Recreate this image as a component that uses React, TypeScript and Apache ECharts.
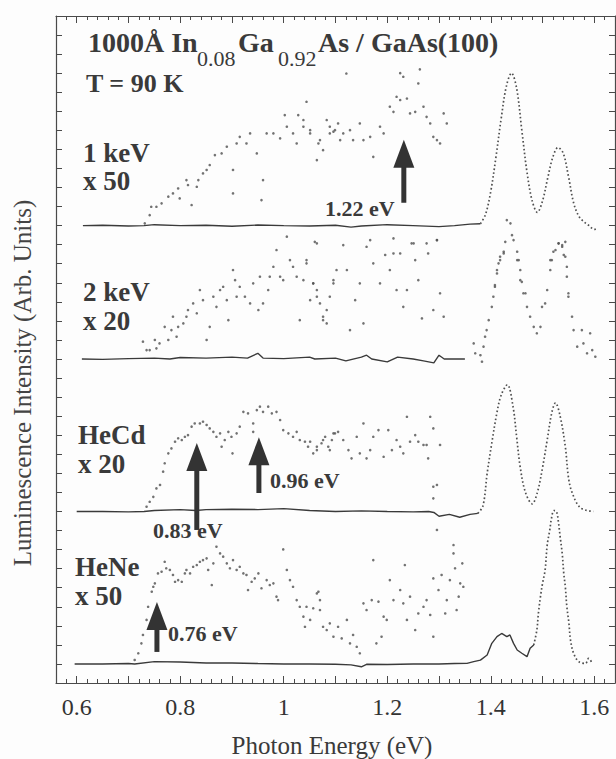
import React, { useEffect, useRef } from 'react';
import * as echarts from 'echarts';

const FONT = '"Liberation Serif", "Times New Roman", serif';
const INK = '#3a3a3a';
const DOT = '#4f4f4f';

// ---- axis ticks ----
const X_LABELS = [0.6, 0.8, 1, 1.2, 1.4, 1.6];
const X_MAJOR = [0.6, 0.7, 0.8, 0.9, 1.0, 1.1, 1.2, 1.3, 1.4, 1.5, 1.6];
const X_MINOR = Array.from({ length: 55 }, (_, i) => Math.round((0.56 + i * 0.02) * 100) / 100);

// ---- 1 keV x50 (baseline 24) ----
const base1 = [[0.612,24.0],[0.65,24.02],[0.7,23.98],[0.73,24.0],[0.75,24.05],[0.8,24.0],[0.85,24.02],[0.9,23.97],[0.95,24.03],[1.0,24.0],[1.05,23.98],[1.1,24.02],[1.13,23.92],[1.15,23.98],[1.2,24.05],[1.25,24.0],[1.3,23.95],[1.33,24.0],[1.36,24.08],[1.38,24.1]];
const peak1 = [[1.38,24.1],[1.39,24.6],[1.40,25.8],[1.41,27.6],[1.42,29.6],[1.43,31.3],[1.44,32.0],[1.45,31.2],[1.46,29.0],[1.47,26.8],[1.48,25.3],[1.49,24.7],[1.50,25.3],[1.51,26.5],[1.52,27.6],[1.53,28.1],[1.54,27.8],[1.55,26.6],[1.56,25.2],[1.57,24.5],[1.58,24.2],[1.59,24.0],[1.60,23.8],[1.605,23.85]];
const mag1 = [[0.7315,24.12],[0.741,24.55],[0.744,24.99],[0.754,24.99],[0.764,25.17],[0.777,25.52],[0.786,25.69],[0.796,25.95],[0.799,25.43],[0.812,26.39],[0.815,26.13],[0.832,26.04],[0.835,26.39],[0.822,25.08],[0.844,26.74],[0.851,26.92],[0.857,27.18],[0.867,27.7],[0.88,27.79],[0.89,28.14],[0.902,26.92],[0.909,28.31],[0.915,28.66],[0.928,28.31],[0.935,28.84],[0.948,27.79],[0.96,26.39],[0.957,25.34],[0.967,28.84],[0.98,28.84],[0.993,28.58],[1.002,29.8],[1.006,29.19],[1.018,28.84],[1.025,28.31],[1.028,29.8],[1.038,29.19],[1.044,30.5],[1.051,28.84],[1.064,27.44],[1.067,28.31],[1.083,29.54],[1.089,28.84],[1.099,29.01],[1.105,29.36],[0.902,25.69],[1.038,29.54],[1.051,29.01],[1.07,28.49],[1.076,27.96],[1.089,29.19],[1.096,28.93],[1.109,28.49],[1.115,28.84],[1.128,29.01],[1.134,28.49],[1.147,29.36],[1.154,28.49],[1.167,28.66],[1.173,27.61],[1.186,29.19],[1.193,28.84],[1.205,30.24],[1.212,29.97],[1.218,30.76],[1.225,30.59],[1.231,31.81],[1.238,30.67],[1.244,29.89],[1.254,29.97],[1.26,31.46],[1.27,30.24],[1.276,29.71],[1.283,29.36],[1.289,28.66],[1.296,28.49],[1.302,28.31],[1.309,29.89],[1.315,29.36],[1.121,31.98],[1.225,32.0],[1.263,32.2]];

// ---- 2 keV x20 (baseline 17) ----
const base2 = [[0.61,17.0],[0.65,16.98],[0.7,17.02],[0.75,17.05],[0.78,17.0],[0.8,17.08],[0.85,17.05],[0.9,17.1],[0.93,17.05],[0.95,17.3],[0.96,17.05],[1.0,17.02],[1.05,17.1],[1.06,17.0],[1.1,17.05],[1.12,16.9],[1.15,17.1],[1.16,17.2],[1.17,17.0],[1.2,16.85],[1.22,17.1],[1.25,17.0],[1.27,16.9],[1.29,16.8],[1.3,17.2],[1.31,17.0],[1.35,17.0]];
const peak2 = [[1.367,17.82],[1.37,17.3],[1.38,17.2],[1.383,16.86],[1.386,17.65],[1.389,18.17],[1.392,18.52],[1.396,19.04],[1.402,19.74],[1.405,20.27],[1.408,20.79],[1.412,21.49],[1.415,22.02],[1.418,22.37],[1.425,22.54],[1.408,20.88],[1.412,21.67],[1.418,22.19],[1.425,22.63],[1.428,23.15],[1.431,24.29],[1.438,24.12],[1.441,23.5],[1.444,23.24],[1.451,22.63],[1.454,22.19],[1.457,21.67],[1.46,21.05],[1.467,20.45],[1.451,22.19],[1.457,21.14],[1.463,20.45],[1.47,19.74],[1.476,19.22],[1.483,18.69],[1.489,18.35],[1.496,18.69],[1.499,19.74],[1.505,19.92],[1.509,20.62],[1.515,21.67],[1.518,22.19],[1.525,22.72],[1.531,23.07],[1.538,22.89],[1.544,22.37],[1.547,21.32],[1.55,20.27],[1.557,19.22],[1.56,18.52],[1.567,17.65],[1.576,18.52],[1.579,17.82],[1.586,17.3],[1.592,18.35],[1.596,17.47],[1.602,17.12],[1.515,22.19],[1.521,22.63],[1.531,23.07],[1.538,22.98],[1.544,23.15],[1.541,22.46],[1.547,21.84],[1.55,20.45]];
const mag2 = [[0.728,17.91],[0.735,17.47],[0.741,17.47],[0.751,18.0],[0.754,17.56],[0.76,17.82],[0.77,18.69],[0.777,18.0],[0.783,18.52],[0.786,19.22],[0.793,18.17],[0.796,18.69],[0.806,18.87],[0.812,19.22],[0.815,19.57],[0.825,19.92],[0.832,19.4],[0.838,20.62],[0.844,20.09],[0.851,18.0],[0.857,18.69],[0.864,20.27],[0.87,19.74],[0.877,20.62],[0.883,20.79],[0.89,20.09],[0.893,19.04],[0.902,21.67],[0.906,21.14],[0.909,20.27],[0.915,20.79],[0.925,20.27],[0.935,19.92],[0.941,20.97],[0.951,19.57],[0.954,21.32],[0.96,19.92],[0.97,20.62],[0.973,21.32],[0.98,21.84],[0.986,22.72],[0.993,21.32],[0.999,21.14],[1.006,23.42],[1.012,22.19],[1.018,21.84],[1.025,21.32],[1.031,19.04],[1.038,21.14],[1.044,22.19],[1.051,20.09],[1.057,20.97],[1.06,23.15],[1.064,20.62],[1.07,19.92],[1.076,19.22],[1.083,18.87],[1.089,20.27],[1.096,21.14],[1.044,22.02],[1.057,20.97],[1.064,20.27],[1.076,19.04],[1.083,19.57],[1.096,20.97],[1.102,21.67],[1.115,22.98],[1.122,21.67],[1.128,18.52],[1.138,20.09],[1.147,20.97],[1.154,18.87],[1.167,23.24],[1.173,22.02],[1.186,20.97],[1.196,22.46],[1.205,21.67],[1.212,23.33],[1.218,20.62],[1.225,22.54],[1.231,19.74],[1.238,20.62],[1.247,23.07],[1.254,22.19],[1.26,21.14],[1.267,19.13],[1.276,23.07],[1.279,22.54],[1.289,19.57],[1.296,23.24],[1.302,20.45],[1.309,19.22],[1.064,23.07],[1.16,22.89],[1.212,22.54],[1.251,23.07],[1.296,23.24]];

// ---- HeCd x20 (baseline 9) ----
const base3 = [[0.6,9.0],[0.65,9.0],[0.7,8.98],[0.73,9.0],[0.75,9.05],[0.8,9.1],[0.83,9.05],[0.85,9.1],[0.9,9.12],[0.95,9.1],[1.0,9.15],[1.05,9.05],[1.1,9.0],[1.15,9.03],[1.2,9.0],[1.25,8.98],[1.28,9.0],[1.29,8.95],[1.3,8.75],[1.32,8.85],[1.34,8.7],[1.36,8.85],[1.375,8.9]];
const peak3 = [[1.375,8.9],[1.385,9.3],[1.393,11.0],[1.402,12.6],[1.412,14.2],[1.42,15.1],[1.432,15.65],[1.443,14.5],[1.45,12.9],[1.457,11.3],[1.467,10.0],[1.48,9.4],[1.49,10.0],[1.5,11.3],[1.509,12.75],[1.518,14.2],[1.525,14.7],[1.534,14.0],[1.544,12.4],[1.55,10.8],[1.557,10.0],[1.573,9.2],[1.598,9.0]];
const mag3 = [[0.735,9.25],[0.741,9.51],[0.748,9.77],[0.754,10.21],[0.761,10.39],[0.767,11.09],[0.77,11.53],[0.777,12.05],[0.783,12.31],[0.79,12.66],[0.796,12.84],[0.803,12.75],[0.809,12.92],[0.815,13.01],[0.822,13.45],[0.828,13.62],[0.838,13.62],[0.844,13.71],[0.851,13.54],[0.857,13.36],[0.864,13.18],[0.87,12.92],[0.877,13.1],[0.88,12.4],[0.886,12.75],[0.893,13.18],[0.899,12.92],[0.901,12.05],[0.909,13.1],[0.915,13.45],[0.922,14.23],[0.931,14.15],[0.941,13.62],[0.941,13.18],[0.948,14.32],[0.954,14.5],[0.96,14.23],[0.97,14.5],[0.977,14.15],[0.986,14.23],[0.993,13.8],[0.999,13.27],[1.009,13.1],[1.018,12.92],[1.025,13.18],[1.031,12.75],[1.041,12.66],[1.047,12.4],[1.057,12.05],[1.064,12.22],[1.073,12.58],[1.08,12.92],[1.086,12.4],[1.093,12.75],[1.099,13.1],[1.051,12.66],[1.064,12.4],[1.076,12.75],[1.089,12.22],[1.096,13.1],[1.105,13.18],[1.115,12.75],[1.125,12.22],[1.131,11.79],[1.141,12.92],[1.147,12.05],[1.154,13.62],[1.16,11.79],[1.167,12.22],[1.173,12.92],[1.183,13.27],[1.193,11.87],[1.202,13.27],[1.209,12.22],[1.218,12.75],[1.225,12.4],[1.231,12.05],[1.238,13.97],[1.244,12.66],[1.254,13.01],[1.26,12.66],[1.27,12.49],[1.276,12.49],[1.283,13.97],[1.289,13.36],[1.279,11.79],[1.302,12.49],[1.289,10.3],[1.296,10.39],[1.289,9.69]];

// ---- HeNe x50 (baseline 1) ----
const base4 = [[0.596,1.0],[0.65,1.0],[0.7,1.02],[0.712,1.0],[0.75,1.12],[0.8,1.1],[0.85,1.05],[0.9,1.05],[0.95,1.02],[1.0,1.0],[1.05,1.0],[1.1,0.98],[1.13,0.95],[1.15,0.85],[1.16,0.98],[1.2,0.97],[1.25,1.0],[1.3,1.0],[1.33,1.02],[1.354,1.03],[1.367,1.12],[1.38,1.2],[1.393,1.47],[1.402,2.08],[1.412,2.43],[1.421,2.6],[1.431,2.43],[1.437,2.52],[1.444,2.08],[1.451,1.73],[1.46,1.56],[1.47,1.38],[1.476,1.82],[1.483,1.99]];
const peak4 = [[1.483,1.99],[1.489,2.78],[1.492,3.65],[1.496,4.53],[1.5,5.23],[1.505,5.93],[1.509,7.24],[1.514,8.03],[1.517,8.6],[1.522,9.05],[1.527,9.0],[1.531,8.38],[1.534,7.68],[1.538,6.8],[1.541,5.75],[1.544,5.05],[1.547,4.0],[1.551,3.13],[1.554,2.26],[1.56,1.56],[1.57,1.12],[1.583,1.03],[1.589,1.29],[1.596,1.03]];
const mag4 = [[0.712,1.21],[0.719,1.56],[0.725,2.08],[0.728,2.52],[0.735,3.31],[0.738,4.0],[0.745,4.79],[0.748,5.05],[0.751,5.23],[0.757,5.75],[0.764,5.84],[0.77,6.36],[0.773,6.02],[0.78,5.93],[0.786,5.67],[0.79,5.31],[0.796,5.4],[0.803,5.31],[0.809,5.75],[0.812,5.93],[0.819,5.75],[0.825,6.1],[0.832,6.19],[0.838,6.36],[0.844,6.45],[0.851,6.54],[0.854,5.93],[0.861,5.14],[0.864,6.28],[0.87,7.15],[0.877,6.8],[0.883,6.63],[0.89,6.28],[0.896,6.02],[0.902,6.45],[0.909,5.93],[0.915,6.1],[0.922,5.75],[0.928,5.67],[0.931,4.88],[0.938,5.31],[0.944,5.49],[0.951,5.75],[0.957,4.97],[0.967,5.4],[0.973,5.14],[0.98,5.23],[0.986,4.53],[0.989,4.35],[0.999,7.01],[1.006,5.93],[1.012,5.4],[1.018,5.05],[1.025,4.35],[1.031,4.0],[1.038,3.48],[1.041,2.95],[1.051,3.31],[1.057,3.92],[1.064,4.7],[1.07,3.83],[1.076,2.95],[1.083,2.78],[1.096,2.43],[1.044,4.0],[1.067,4.79],[1.07,4.35],[1.089,3.13],[1.105,2.95],[1.112,2.34],[1.122,3.31],[1.128,2.08],[1.134,2.52],[1.141,1.9],[1.147,1.56],[1.154,4.18],[1.16,3.83],[1.17,4.35],[1.173,6.45],[1.179,2.08],[1.183,4.27],[1.189,2.43],[1.193,3.48],[1.199,3.31],[1.205,5.4],[1.212,4.35],[1.225,4.88],[1.231,4.18],[1.234,6.19],[1.238,3.31],[1.244,4.53],[1.254,2.78],[1.26,3.65],[1.27,4.0],[1.276,4.35],[1.283,3.57],[1.289,2.43],[1.289,5.49],[1.296,8.03],[1.299,4.88],[1.305,5.67],[1.312,3.65],[1.315,4.35],[1.321,5.4],[1.328,6.8],[1.328,7.24],[1.331,6.02],[1.334,3.83],[1.338,4.53],[1.341,5.23],[1.345,6.28],[1.347,5.05]];

// ---- arrows: x position, shaft foot, tip ----
const ARROW_X = [1.232, 0.952, 0.832, 0.755];
const ARROW_FOOT = [25.2, 9.97, 8.03, 1.63];
const ARROW_TIP = [28.5, 12.9, 12.6, 4.25];

function baseLine(data: number[][]) {
  return { type: 'line', data, symbol: 'none', silent: true, lineStyle: { color: INK, width: 1.4 }, z: 3 };
}
function dottedLine(data: number[][]) {
  return { type: 'line', data, symbol: 'none', smooth: 0.35, silent: true, lineStyle: { color: DOT, width: 1.7, type: [1.6, 2.4] }, z: 3 };
}
function dots(data: number[][]) {
  return { type: 'scatter', data, symbolSize: 2.6, silent: true, itemStyle: { color: DOT }, z: 3 };
}

function txt(text: string, x: number, y: number, size: number, bold = true, extra: any = {}) {
  return {
    type: 'text', x, y, z: 10, silent: true,
    style: { text, fill: INK, fontSize: size, fontFamily: FONT, fontWeight: bold ? 'bold' : 'normal', align: 'left', verticalAlign: 'middle', ...extra },
  };
}

export default function App() {
  const ref = useRef<HTMLDivElement>(null);
  useEffect(() => {
    document.body.style.margin = '0';
    const chart = echarts.init(ref.current!, undefined, { renderer: 'svg' });
    const axisColor = '#4a4a4a';
    const xCommon = { type: 'value', min: 0.56, max: 1.64, splitLine: { show: false } };
    const option: any = {
      animation: false,
      backgroundColor: '#fdfdfd',
      grid: { left: 56, right: 1, top: 16, bottom: 76 },
      xAxis: [
        { ...xCommon, position: 'bottom', axisLine: { show: true, lineStyle: { color: axisColor, width: 1.2 } },
          axisTick: { show: true, inside: true, length: 7, customValues: X_MAJOR, lineStyle: { color: axisColor } },
          axisLabel: { customValues: X_LABELS, formatter: (v: number) => String(v), fontSize: 24, fontFamily: FONT, color: '#333', margin: 12 } },
        { ...xCommon, position: 'bottom', axisLine: { show: false },
          axisTick: { show: true, inside: true, length: 4, customValues: X_MINOR, lineStyle: { color: axisColor } },
          axisLabel: { show: false } },
        { ...xCommon, position: 'top', axisLine: { show: true, lineStyle: { color: axisColor, width: 1.2 } },
          axisTick: { show: true, inside: true, length: 7, customValues: X_MAJOR, lineStyle: { color: axisColor } },
          axisLabel: { show: false } },
        { ...xCommon, position: 'top', axisLine: { show: false },
          axisTick: { show: true, inside: true, length: 4, customValues: X_MINOR, lineStyle: { color: axisColor } },
          axisLabel: { show: false } },
      ],
      yAxis: [
        { type: 'value', min: 0, max: 35, interval: 1, position: 'left', splitLine: { show: false },
          axisLine: { show: true, lineStyle: { color: axisColor, width: 1.2 } },
          axisTick: { show: true, inside: true, length: 6, lineStyle: { color: axisColor } }, axisLabel: { show: false } },
        { type: 'value', min: 0, max: 35, interval: 1, position: 'right', splitLine: { show: false },
          axisLine: { show: true, lineStyle: { color: axisColor, width: 1.2 } },
          axisTick: { show: true, inside: true, length: 6, lineStyle: { color: axisColor } }, axisLabel: { show: false } },
      ],
      series: [
        baseLine(base1), dottedLine(peak1), dots(mag1),
        baseLine(base2), dots(peak2), dots(mag2),
        baseLine(base3), dottedLine(peak3), dots(mag3),
        baseLine(base4), dottedLine(peak4), dots(mag4),
        {
          type: 'custom', clip: false, z: 6, silent: true,
          data: ARROW_X.map((x, i) => [x, ARROW_FOOT[i], ARROW_TIP[i]]),
          encode: { x: 0, y: [1, 2] },
          renderItem: (_p: any, api: any) => {
            const foot = api.coord([api.value(0), api.value(1)]);
            const tip = api.coord([api.value(0), api.value(2)]);
            const headW = 21, headH = 28, shaft = 5;
            return {
              type: 'group',
              children: [
                { type: 'rect', shape: { x: foot[0] - shaft / 2, y: tip[1] + headH - 1, width: shaft, height: foot[1] - tip[1] - headH + 1 }, style: { fill: '#333' } },
                { type: 'polygon', shape: { points: [[tip[0], tip[1]], [tip[0] - headW / 2, tip[1] + headH], [tip[0] + headW / 2, tip[1] + headH]] }, style: { fill: '#333' } },
              ],
            };
          },
        },
      ],
      graphic: [
        txt('1000Å In', 88, 42, 28),
        txt('0.08', 197, 58, 22, false),
        txt('Ga', 238, 42, 28),
        txt('0.92', 278, 58, 22, false),
        txt('As / GaAs(100)', 318, 42, 28),
        txt('T = 90 K', 86, 83, 26),
        txt('1 keV', 83, 153, 27),
        txt('x 50', 83, 181, 27),
        txt('2 keV', 83, 292, 27),
        txt('x 20', 83, 321, 27),
        txt('HeCd', 78, 435, 27),
        txt('x 20', 78, 464, 27),
        txt('HeNe', 75, 567, 27),
        txt('x 50', 75, 596, 27),
        txt('1.22 eV', 325, 208, 22),
        txt('0.96 eV', 270, 480, 22),
        txt('0.83 eV', 153, 530, 22),
        txt('0.76 eV', 168, 633, 22),
        txt('Photon Energy (eV)', 332, 745, 25, false, { align: 'center' }),
        { type: 'text', x: 22, y: 383, rotation: Math.PI / 2, z: 10, silent: true,
          style: { text: 'Luminescence Intensity (Arb. Units)', fill: '#444', fontSize: 25, fontFamily: FONT, align: 'center', verticalAlign: 'middle' } },
      ],
    };
    chart.setOption(option);
    return () => chart.dispose();
  }, []);
  return <div ref={ref} style={{ width: 616, height: 759, position: 'absolute', left: 0, top: 0 }} />;
}
